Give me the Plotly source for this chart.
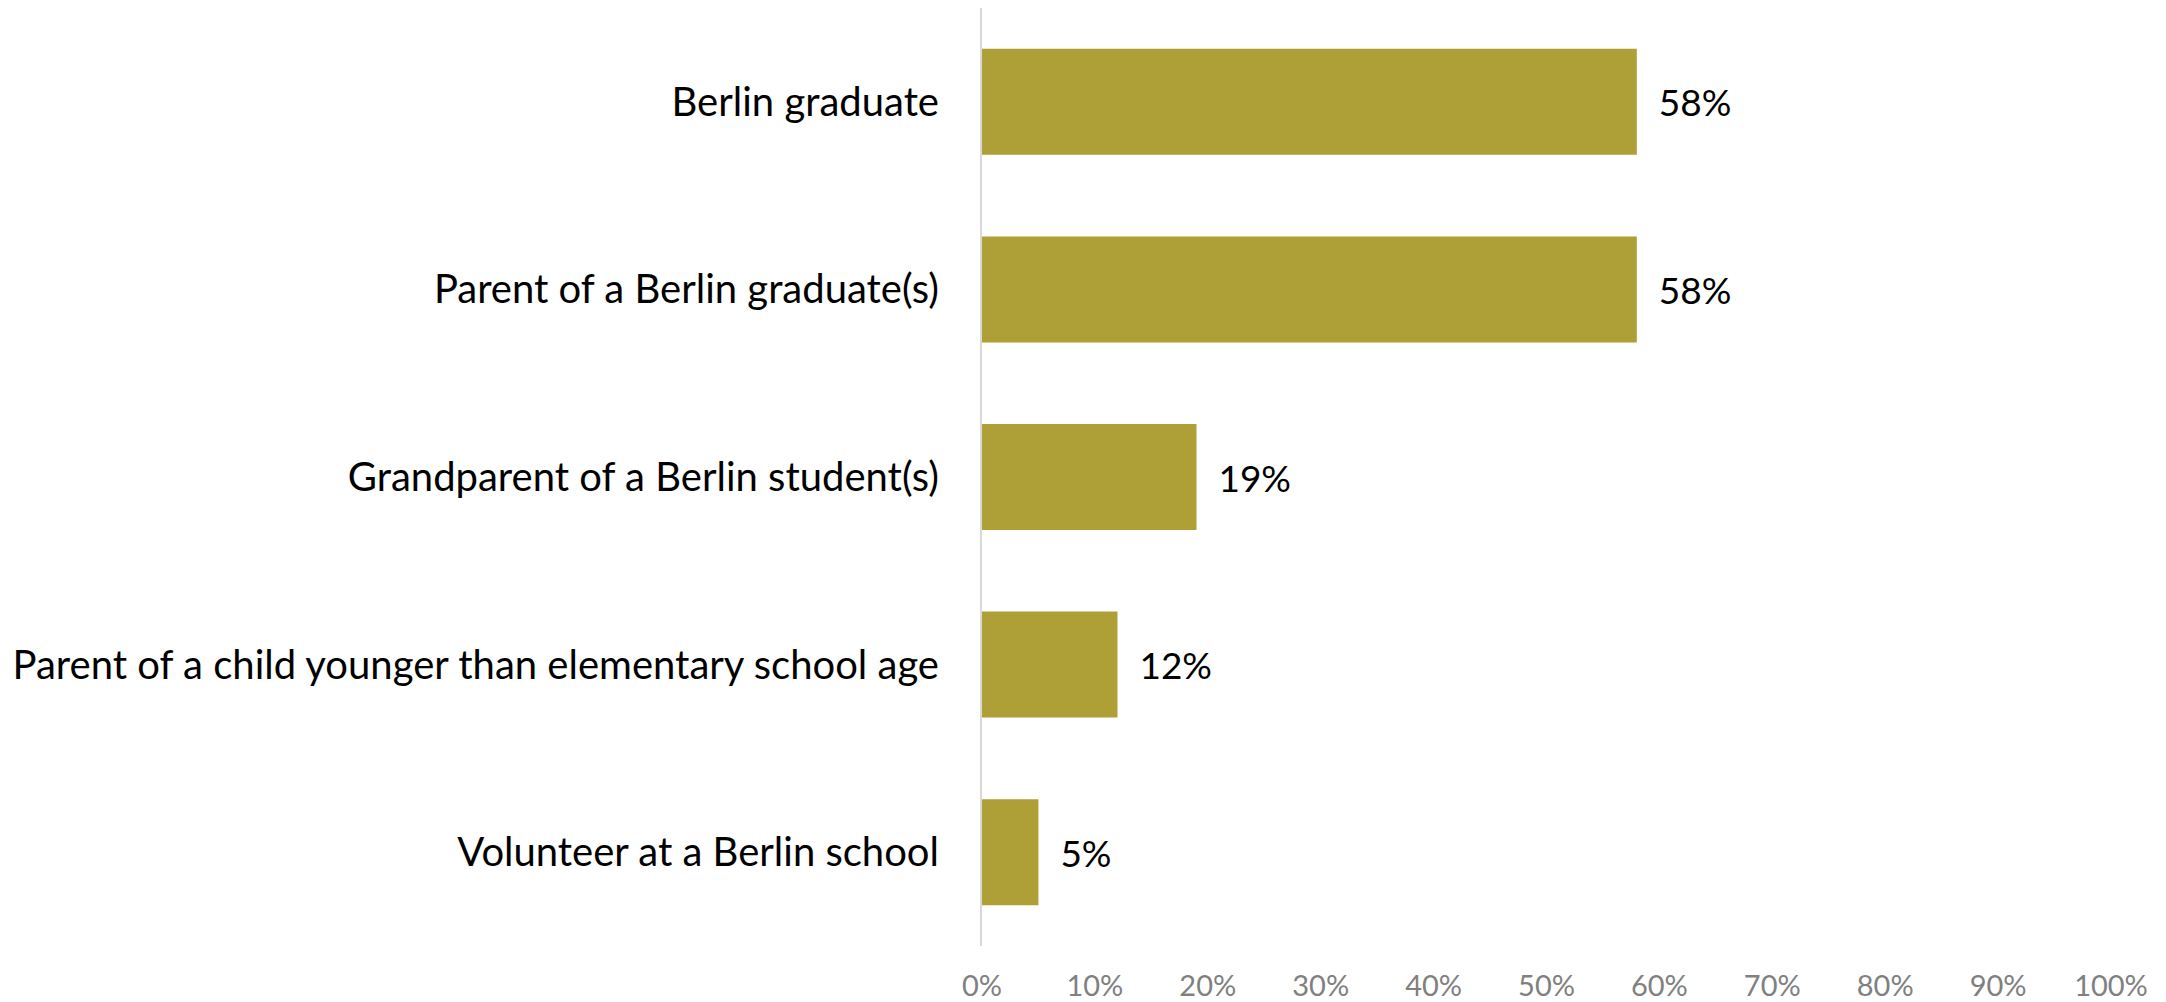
import plotly.graph_objects as go

categories = [
    "Berlin graduate",
    "Parent of a Berlin graduate(s)",
    "Grandparent of a Berlin student(s)",
    "Parent of a child younger than elementary school age",
    "Volunteer at a Berlin school",
]
values = [0.58, 0.58, 0.19, 0.12, 0.05]
value_labels = ["58%", "58%", "19%", "12%", "5%"]
tick_vals = [0, 0.1, 0.2, 0.3, 0.4, 0.5, 0.6, 0.7, 0.8, 0.9, 1.0]
tick_text = ["0%", "10%", "20%", "30%", "40%", "50%", "60%", "70%", "80%", "90%", "100%"]

FONT = "Lato"

fig = go.Figure(
    go.Bar(
        x=values,
        y=categories,
        orientation="h",
        marker=dict(color="#AE9F36", line=dict(width=0)),
        text=["  " + t for t in value_labels],
        textposition="outside",
        textfont=dict(family=FONT, size=37, color="#000000"),
        cliponaxis=False,
    )
)

fig.update_layout(
    width=2166,
    height=1002,
    margin=dict(l=974, r=63, t=0, b=64),
    paper_bgcolor="white",
    plot_bgcolor="white",
    bargap=0.435,
    showlegend=False,
    xaxis=dict(
        range=[0, 1],
        tickvals=tick_vals,
        ticktext=tick_text,
        showgrid=False,
        zeroline=False,
        showline=False,
        ticks="",
        tickfont=dict(family=FONT, size=29, color="#808080"),
        ticklabelstandoff=20,
    ),
    yaxis=dict(
        autorange="reversed",
        showgrid=False,
        zeroline=False,
        showline=True,
        linecolor="#D9D9D9",
        linewidth=2,
        ticks="",
        tickfont=dict(family=FONT, size=40, color="#000000"),
        ticklabelstandoff=33,
    ),
)

fig.write_html("out.html")
